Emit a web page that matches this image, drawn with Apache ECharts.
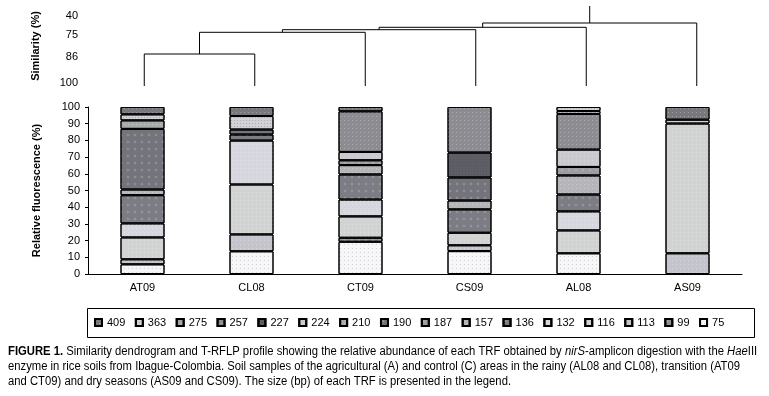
<!DOCTYPE html>
<html>
<head>
<meta charset="utf-8">
<script src="https://cdn.jsdelivr.net/npm/echarts@6/dist/echarts.min.js"></script>
<style>
  html, body { margin: 0; padding: 0; background: #fff; }
  #chart { width: 769px; height: 396px; }
</style>
</head>
<body>
<div id="chart"></div>
<script>
// samples on the x axis
const samples = ["AT09", "CL08", "CT09", "CS09", "AL08", "AS09"];

// TRF sizes (bp), legend order
const trfs = ["409", "363", "275", "257", "227", "224", "210", "190", "187", "157", "136", "132", "116", "113", "99", "75"];

// relative fluorescence (%) per TRF, one value per sample
const f409 = [4.4, 5.4, 2.6, 0, 0, 7.6];
const f363 = [3.6, 8.1, 0, 0, 2.4, 2.3];
const f275 = [0, 0, 0, 0, 1.8, 0];
const f257 = [0, 0, 24.3, 27.3, 21.3, 0];
const f227 = [0, 0, 0, 14.9, 0, 0];
const f224 = [0, 0, 5.0, 0, 10.4, 0];
const f210 = [5.1, 0, 0, 0, 0, 0];
const f190 = [36.3, 3.0, 0, 13.8, 0, 0];
const f187 = [0, 0, 2.9, 0, 5.1, 0];
const f157 = [3.4, 0, 5.6, 5.3, 11.4, 0];
const f136 = [16.9, 3.6, 15.0, 14.0, 10.1, 0];
const f132 = [8.4, 26.3, 10.1, 0, 11.4, 0];
const f116 = [13.1, 29.9, 12.8, 7.5, 13.7, 77.7];
const f113 = [3.0, 10.1, 0, 3.5, 0, 12.4];
const f99 = [0, 0, 2.4, 0, 0, 0];
const f75 = [5.8, 13.6, 19.3, 13.7, 12.4, 0];

const trfValues = [f409, f363, f275, f257, f227, f224, f210, f190, f187, f157, f136, f132, f116, f113, f99, f75];

// grey shades for each TRF (same order as trfs)
const trfColors = ["#78787e", "#d2d2d6", "#a4a4aa", "#8c8c92", "#5e5e66", "#cacace", "#a8acaa", "#74747c",
  "#9c9ca2", "#b6b6ba", "#7c7c84", "#d6d6de", "#d0d3d2", "#c4c4cc", "#909096", "#f6f6f6"];

// print texture on top of each shade: "dot", "diamond" or "grid"
const trfTexture = ["dot", "grid", "dot", "dot", "grid", "dot", "dot", "diamond",
  "diamond", "dot", "diamond", "dot", "dot", "dot", "diamond", "dot"];

// dendrogram: merge heights (axis units), leaves joined left to right
const mergeLevels = [32, 53.7, 56.3, 58.7, 63];
const rootTop = 80;
// similarity tick labels and where they sit on the dendrogram axis
const simLabels = ["100", "86", "75", "40"];
const simLevels = [3, 29, 51, 70];

const font = "'Liberation Sans Narrow', 'Arial Narrow', 'Liberation Sans', Arial, sans-serif";

const captionLines = [
  "{b|FIGURE 1.} Similarity dendrogram and T-RFLP profile showing the relative abundance of each TRF obtained by {i|nirS}-amplicon digestion with the {i|Hae}III",
  "enzyme in rice soils from Ibague-Colombia. Soil samples of the agricultural (A) and control (C) areas in the rainy (AL08 and CL08), transition (AT09",
  "and CT09) and dry seasons (AS09 and CS09). The size (bp) of each TRF is presented in the legend.",
];

// squeeze the caption so the first line fills the width, like the narrow print font
const ctx = document.createElement("canvas").getContext("2d");
ctx.font = "12px " + font;
const firstLineWidth = ctx.measureText(captionLines[0].replace(/\{[bi]\|([^}]*)\}/g, "$1")).width + 3;
const captionScale = Math.min(1, 752 / firstLineWidth);

function makeDecal(kind, color) {
  const light = color === "#f6f6f6" ? "rgba(140,140,160,0.35)" : "rgba(255,255,255,0.28)";
  if (kind === "diamond") {
    return { symbol: "diamond", symbolSize: 0.8, color: "rgba(200,200,210,0.35)", dashArrayX: [4, 3], dashArrayY: [4, 3] };
  }
  if (kind === "grid") {
    return { symbol: "rect", symbolSize: 1, color: "rgba(60,60,70,0.25)", dashArrayX: [1, 2], dashArrayY: [1, 2] };
  }
  return { symbol: "rect", symbolSize: 1, color: light, dashArrayX: [1, 3], dashArrayY: [1, 3] };
}

// build the dendrogram links
const dendroSeries = [];
let cx = 0, cy = 0;
mergeLevels.forEach((h, i) => {
  const rx = i + 1;
  dendroSeries.push({
    type: "line",
    xAxisIndex: 1,
    yAxisIndex: 1,
    symbol: "none",
    silent: true,
    lineStyle: { color: "#000", width: 1 },
    data: [[cx, cy], [cx, h], [rx, h], [rx, 0]],
  });
  cx = (cx + rx) / 2;
  cy = h;
});
dendroSeries.push({
  type: "line",
  xAxisIndex: 1,
  yAxisIndex: 1,
  symbol: "none",
  silent: true,
  lineStyle: { color: "#000", width: 1 },
  data: [[cx, cy], [cx, rootTop]],
});

// stacked bars, smallest TRF at the bottom
const barSeries = trfs.slice().reverse().map((name) => {
  const idx = trfs.indexOf(name);
  return {
    name: name,
    type: "bar",
    stack: "all",
    barWidth: 44,
    itemStyle: {
      color: trfColors[idx],
      borderColor: "#000",
      borderWidth: 1,
      decal: makeDecal(trfTexture[idx], trfColors[idx]),
    },
    data: trfValues[idx].map((v) => (v === 0 ? "-" : v)),
  };
});

const chart = echarts.init(document.getElementById("chart"));

const option = {
  animation: false,
  textStyle: { fontFamily: font },
  grid: [
    { left: 88, top: 107, width: 654, height: 167 },
    { left: 89, top: 6, width: 663, height: 80 },
  ],
  xAxis: [
    {
      type: "category",
      gridIndex: 0,
      data: samples,
      axisLine: { lineStyle: { color: "#000", width: 1 } },
      axisTick: { length: 4, lineStyle: { color: "#000" } },
      axisLabel: { color: "#000", fontSize: 11, fontFamily: font, margin: 8 },
    },
    {
      type: "value",
      gridIndex: 1,
      min: -0.5,
      max: 5.5,
      show: false,
    },
  ],
  yAxis: [
    {
      type: "value",
      gridIndex: 0,
      min: 0,
      max: 100,
      interval: 10,
      name: "Relative fluorescence (%)",
      nameLocation: "middle",
      nameGap: 46,
      nameTextStyle: { color: "#000", fontSize: 11, fontWeight: "bold", fontFamily: font },
      splitLine: { show: false },
      axisLine: { show: true, lineStyle: { color: "#000", width: 1 } },
      axisTick: { show: true, length: 3, lineStyle: { color: "#000" } },
      axisLabel: { color: "#000", fontSize: 11, fontFamily: font, margin: 8 },
    },
    {
      type: "value",
      gridIndex: 1,
      min: 0,
      max: 80,
      name: "Similarity (%)",
      nameLocation: "middle",
      nameGap: 48,
      nameTextStyle: { color: "#000", fontSize: 11, fontWeight: "bold", fontFamily: font },
      splitLine: { show: false },
      axisLine: { show: false },
      axisTick: { show: false },
      axisLabel: {
        color: "#000",
        fontSize: 11,
        fontFamily: font,
        margin: 11,
        customValues: simLevels,
        formatter: (v) => simLabels[simLevels.indexOf(v)],
      },
    },
  ],
  legend: {
    data: trfs,
    left: 94,
    top: 317,
    padding: 0,
    itemWidth: 7,
    itemHeight: 7,
    itemGap: 9.5,
    icon: "rect",
    selectedMode: false,
    textStyle: { color: "#000", fontSize: 11, fontFamily: font, width: 20 },
  },
  graphic: [
    {
      type: "rect",
      shape: { x: 87.5, y: 308.5, width: 667, height: 29 },
      style: { fill: "none", stroke: "#000", lineWidth: 1 },
      silent: true,
    },
    {
      type: "text",
      x: 8,
      y: 344,
      scaleX: captionScale,
      style: {
        text: captionLines.join("\n"),
        font: "12px " + font,
        fill: "#000",
        lineHeight: 15,
        rich: {
          b: { fontWeight: "bold", fontFamily: font, fontSize: 12, lineHeight: 15 },
          i: { fontStyle: "italic", fontFamily: font, fontSize: 12, lineHeight: 15 },
        },
      },
    },
  ],
  series: barSeries.concat(dendroSeries),
};

chart.setOption(option);
</script>
</body>
</html>
